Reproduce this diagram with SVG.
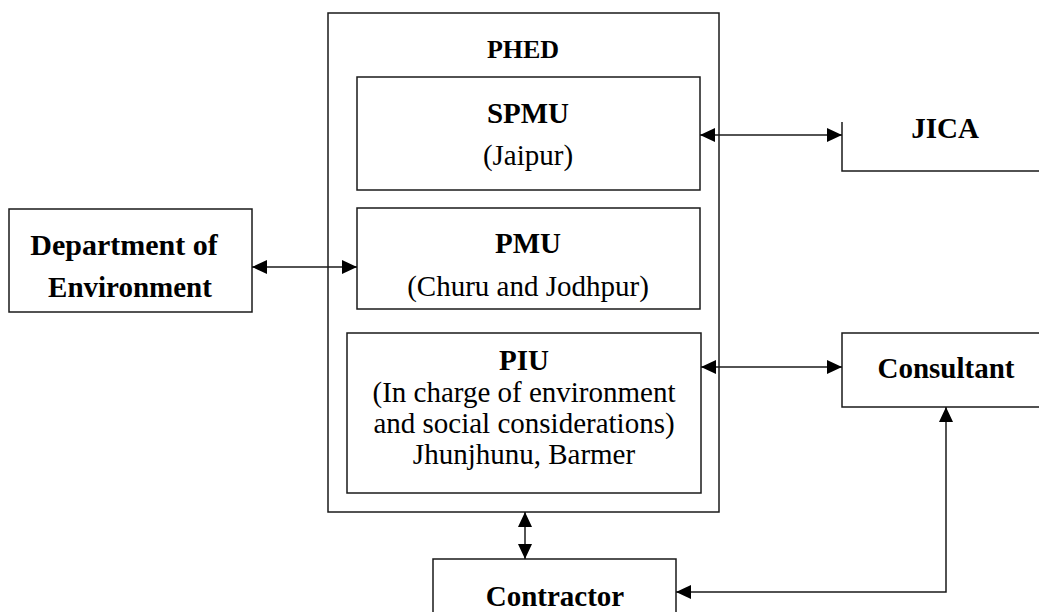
<svg xmlns="http://www.w3.org/2000/svg" width="1039" height="612" viewBox="0 0 1039 612">
  <style>
    .box { fill: none; stroke: #1a1a1a; stroke-width: 1.5; }
    .edge { fill: none; stroke: #1a1a1a; stroke-width: 1.5; }
    .t { font-family: "Liberation Serif", "Times New Roman", serif; fill: #000; text-anchor: middle; }
    .b { font-weight: bold; font-size: 29px; }
    .r { font-size: 29px; }
  </style>
  <defs>
    <marker id="arrow" markerUnits="userSpaceOnUse" markerWidth="15" markerHeight="14" refX="15" refY="7" orient="auto-start-reverse">
      <path d="M0,0 L15,7 L0,14 Z" fill="#000"/>
    </marker>
  </defs>

  <rect width="1039" height="612" fill="#fff"/>

  <!-- PHED container -->
  <g id="phed">
    <rect class="box" x="328" y="13" width="391" height="499"/>
    <text class="t b" x="523" y="58" style="font-size:26px">PHED</text>
  </g>

  <g id="spmu">
    <rect class="box" x="357" y="77" width="343" height="113"/>
    <text class="t b" x="528" y="123">SPMU</text>
    <text class="t r" x="528" y="165">(Jaipur)</text>
  </g>

  <g id="pmu">
    <rect class="box" x="357" y="208" width="343" height="101"/>
    <text class="t b" x="528" y="253">PMU</text>
    <text class="t r" x="528" y="296">(Churu and Jodhpur)</text>
  </g>

  <g id="piu">
    <rect class="box" x="347" y="333" width="354" height="160"/>
    <text class="t b" x="524" y="370">PIU</text>
    <text class="t r" x="524" y="402">(In charge of environment</text>
    <text class="t r" x="524" y="433">and social considerations)</text>
    <text class="t r" x="524" y="464">Jhunjhunu, Barmer</text>
  </g>

  <g id="dept-env">
    <rect class="box" x="9" y="209" width="243" height="103"/>
    <text class="t b" x="124" y="255" style="font-size:30px">Department of</text>
    <text class="t b" x="130" y="297">Environment</text>
  </g>

  <!-- boxes running past the right border -->
  <g id="jica">
    <path class="box" d="M842,122 V171 H1039"/>
    <text class="t b" x="945" y="138">JICA</text>
  </g>

  <g id="consultant">
    <path class="box" d="M1039,333 H842 V407 H1039"/>
    <text class="t b" x="946" y="378">Consultant</text>
  </g>

  <g id="contractor">
    <path class="box" d="M433,612 V559 H676 V612"/>
    <text class="t b" x="555" y="606">Contractor</text>
  </g>

  <!-- connectors -->
  <g id="connectors">
    <line class="edge" x1="700" y1="135" x2="842" y2="135" marker-start="url(#arrow)" marker-end="url(#arrow)"/>
    <line class="edge" x1="252" y1="267" x2="357" y2="267" marker-start="url(#arrow)" marker-end="url(#arrow)"/>
    <line class="edge" x1="701" y1="367" x2="842" y2="367" marker-start="url(#arrow)" marker-end="url(#arrow)"/>
    <line class="edge" x1="525" y1="512" x2="525" y2="559" marker-start="url(#arrow)" marker-end="url(#arrow)"/>
    <path class="edge" d="M946,407 V592 H676" marker-start="url(#arrow)" marker-end="url(#arrow)"/>
  </g>
</svg>
